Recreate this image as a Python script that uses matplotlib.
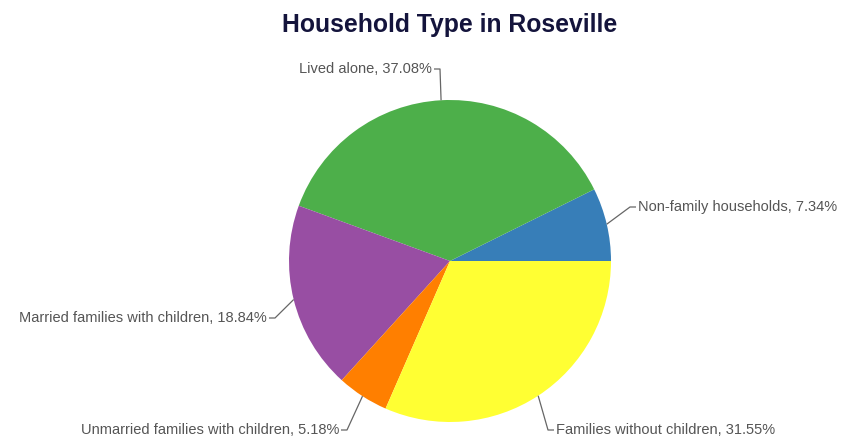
import matplotlib
matplotlib.use("Agg")
import matplotlib.pyplot as plt
import numpy as np

# data
categories = ["Non-family households", "Lived alone", "Married families with children",
              "Unmarried families with children", "Families without children"]
shares = [7.34, 37.08, 18.84, 5.18, 31.55]
colors = ["#377eb8", "#4daf4a", "#984ea3", "#ff7f00", "#ffff33"]

# label layout (elbow point, text anchor side) in pixel coords, y down
elbows = [(630, 207), (440, 69), (275, 318), (347, 430), (548, 430)]
sides = ["left", "right", "right", "right", "left"]

plt.rcParams['font.family'] = ['Liberation Sans', 'DejaVu Sans']

W, H = 841, 437
fig = plt.figure(figsize=(W / 100, H / 100), dpi=100)
ax = fig.add_axes([0, 0, 1, 1])
ax.set_xlim(0, W)
ax.set_ylim(0, H)
ax.axis('off')

cx, cy, r = 450, H - 261, 161
wedges, _ = ax.pie(shares, colors=colors, startangle=0, counterclock=True,
                   center=(cx, cy), radius=r, wedgeprops=dict(linewidth=0))
ax.set_xlim(0, W)
ax.set_ylim(0, H)
ax.set_aspect('equal')

for w, name, val, (ex, ey), side in zip(wedges, categories, shares, elbows, sides):
    mid = np.deg2rad((w.theta1 + w.theta2) / 2)
    px, py = cx + r * np.cos(mid), cy + r * np.sin(mid)
    ey = H - ey
    if side == "left":
        tx = ex + 6
        ha = "left"
    else:
        tx = ex - 6
        ha = "right"
    ax.plot([px, ex, tx], [py, ey, ey], color="#666666", lw=0.9, solid_capstyle='butt')
    ax.text(tx + (2 if ha == "left" else -2), ey, f"{name}, {val:.2f}%", ha=ha, va="center",
            fontsize=10.5, color="#555555")

ax.text(450, H - 25, "Household Type in Roseville", ha="center", va="center",
        fontsize=17.8, fontweight="bold", color="#14143c")

fig.savefig("out.png", dpi=100)
